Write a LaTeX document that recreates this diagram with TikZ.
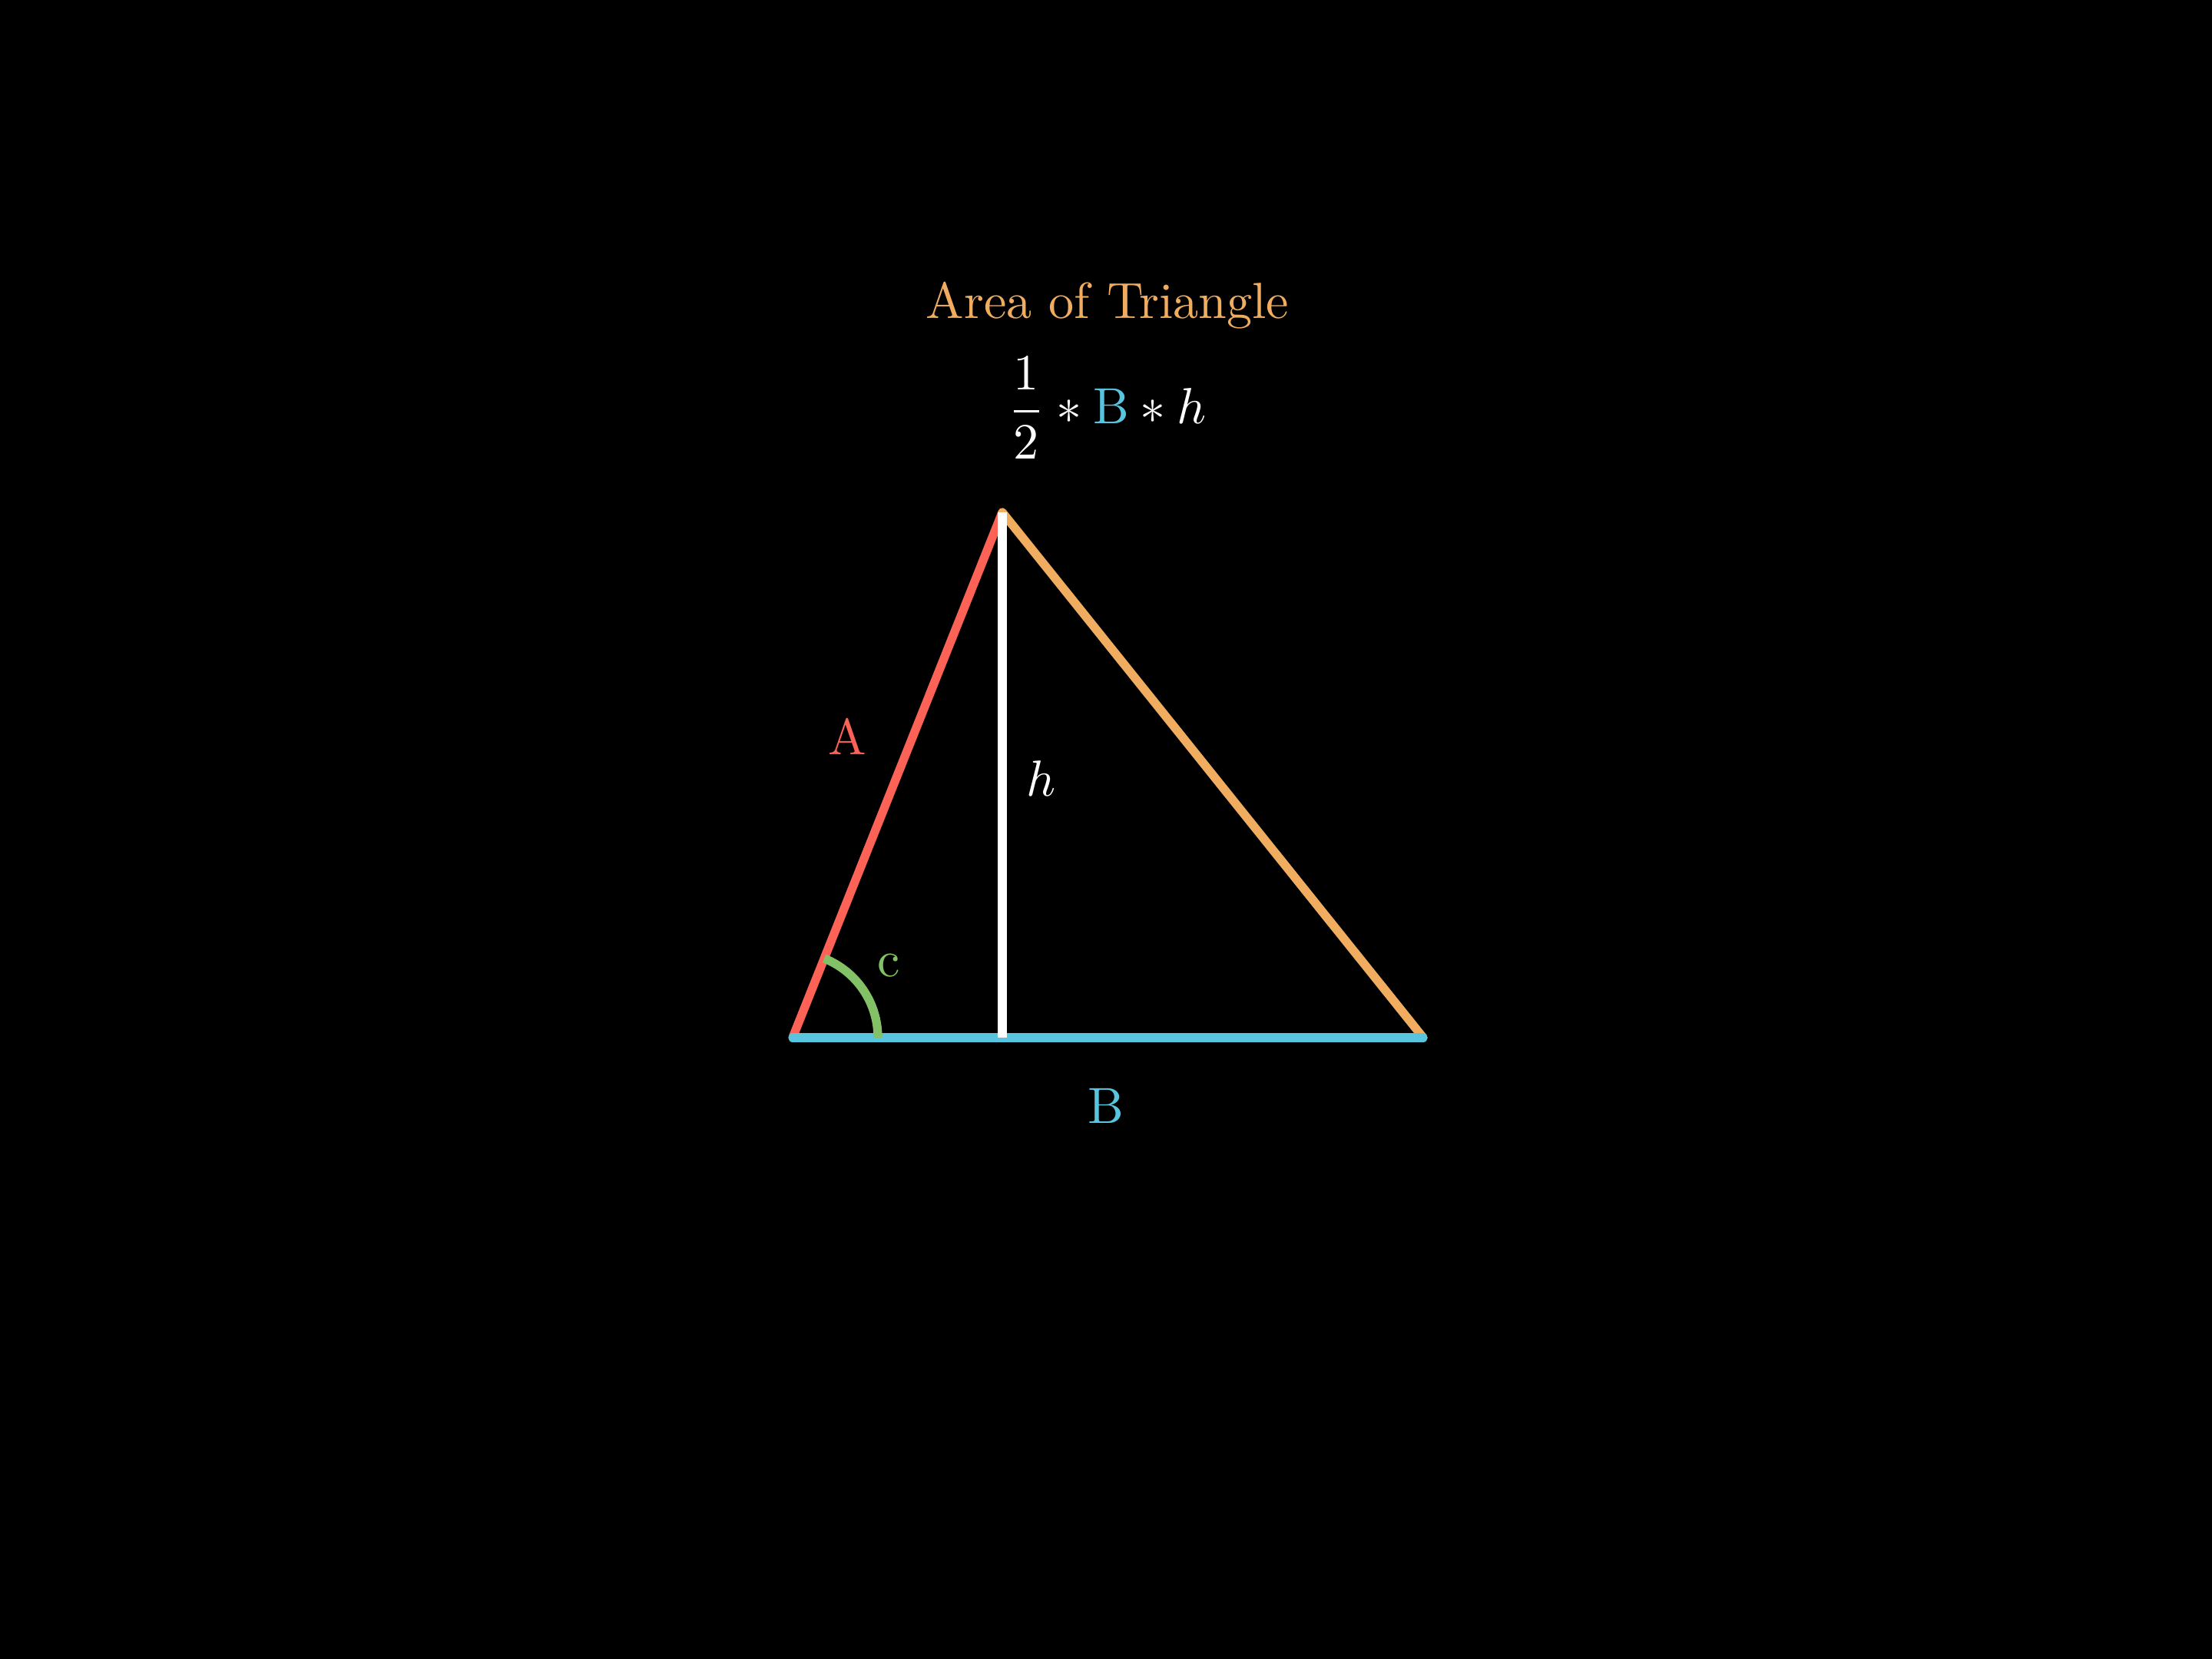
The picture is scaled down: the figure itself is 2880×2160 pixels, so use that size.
\documentclass[tikz,border=0pt]{standalone}
\usepackage{fix-cm}
\definecolor{mred}{HTML}{FC6255}
\definecolor{mgold}{HTML}{F0AC5F}
\definecolor{mblue}{HTML}{58C4DD}
\definecolor{mgreen}{HTML}{83C167}
\tikzset{
  side/.style={line width=3.2pt, line cap=round, line join=round},
  lbl/.style={font=\fontsize{10}{12}\selectfont, scale=1.88, inner sep=0pt, anchor=base},
}
\begin{document}
\begin{tikzpicture}[x=0.01cm, y=0.01cm]
\fill[black] (0,0) rectangle (2880,2160);
\useasboundingbox (0,0) rectangle (2880,2160);
\coordinate (Q) at (1032,809);
\coordinate (P) at (1305,1493);
\coordinate (R) at (1853,809);
\coordinate (F) at (1305,809);
\draw[side, mred] (Q) -- (P);
\draw[side, mgold] (P) -- (R);
\draw[side, mblue] (Q) -- (R);
\draw[side, mgreen, line cap=butt] ([shift={(0:111)}]Q) arc[start angle=0, end angle=68.24, radius=111];
\draw[side, white, line cap=butt] (P) -- (F);
\node[lbl, text=mgold] (title) at (1442,1745) {Area of Triangle};
\node[lbl, text=white] (formula) at (1441,1608) {$\displaystyle \frac{1}{2} \ast \textcolor{mblue}{\mathrm{B}} \ast h$};
\node[lbl, text=mred] (la) at (1103,1177) {A};
\node[lbl, text=white] (lh) at (1356,1123) {$h$};
\node[lbl, text=mgreen] (lc) at (1157,888) {c};
\node[lbl, text=mblue] (lb) at (1440,697) {B};
\end{tikzpicture}
\end{document}
